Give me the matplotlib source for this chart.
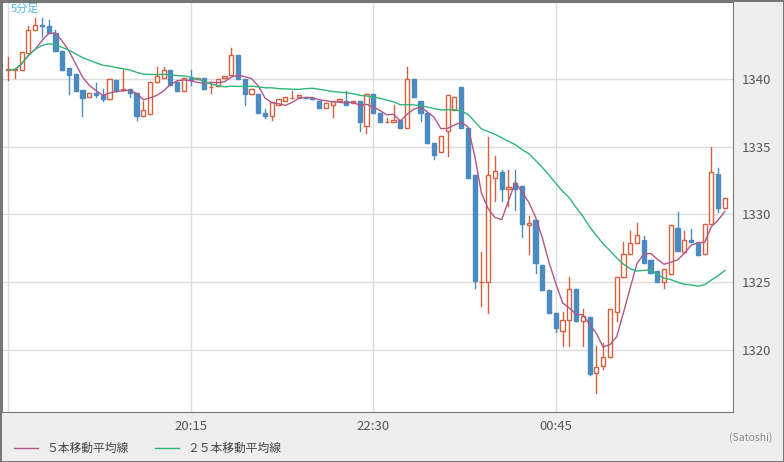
import matplotlib
matplotlib.use("Agg")
import matplotlib.pyplot as plt
from matplotlib.patches import Rectangle
from matplotlib.lines import Line2D
import numpy as np
import pandas as pd

plt.rcParams['font.family'] = ['Noto Sans CJK JP', 'DejaVu Sans']

opens = [1340.7,1340.7,1340.7,1341.9,1343.6,1344.0,1343.9,1343.4,1342.1,1340.8,
         1340.4,1339.2,1338.7,1339.0,1338.8,1338.5,1339.9,1339.2,1339.3,1339.0,
         1337.3,1337.4,1339.8,1340.1,1340.7,1339.8,1339.1,1340.1,1340.0,1340.1,
         1339.4,1339.5,1340.1,1340.3,1341.8,1340.0,1338.9,1338.9,1337.5,1337.3,
         1338.1,1338.4,1338.6,1338.7,1338.7,1338.6,1338.4,1337.9,1338.1,1338.4,
         1338.4,1338.2,1338.4,1336.5,1338.9,1337.5,1336.8,1336.8,1337.0,1336.4,
         1340.0,1338.4,1337.5,1335.3,1334.6,1336.2,1337.7,1339.4,1336.4,1332.9,
         1325.0,1325.0,1332.7,1333.1,1331.9,1332.3,1332.1,1329.2,1329.6,1326.3,
         1324.4,1322.7,1321.4,1322.2,1324.5,1322.1,1322.4,1318.3,1318.8,1319.5,
         1322.8,1325.4,1327.1,1327.9,1328.1,1326.6,1325.8,1325.0,1325.6,1329.0,
         1327.2,1328.1,1327.9,1327.1,1329.3,1333.0,1330.5]
closes = [1340.7,1340.7,1342.0,1343.6,1344.0,1343.9,1343.4,1342.1,1340.7,1340.3,
          1339.1,1338.6,1339.0,1338.8,1338.5,1340.0,1339.1,1339.3,1339.0,1337.3,
          1337.7,1339.8,1340.2,1340.7,1339.6,1339.1,1340.1,1339.9,1340.1,1339.3,
          1339.4,1340.0,1340.2,1341.8,1340.0,1338.9,1339.3,1337.5,1337.3,1338.3,
          1338.5,1338.7,1338.6,1338.8,1338.6,1338.5,1337.9,1338.2,1338.4,1338.5,
          1338.1,1338.4,1336.8,1338.9,1337.5,1336.8,1336.8,1337.0,1336.4,1340.0,
          1338.7,1337.5,1335.3,1334.4,1335.8,1338.8,1338.7,1336.4,1332.7,1325.1,
          1325.0,1332.9,1333.2,1331.9,1332.0,1331.9,1329.3,1329.4,1326.4,1324.4,
          1322.7,1321.6,1322.2,1324.5,1322.1,1322.5,1318.2,1318.7,1319.5,1323.0,
          1325.4,1327.1,1327.9,1328.5,1326.4,1325.7,1325.0,1326.0,1329.2,1327.3,
          1328.1,1328.0,1327.0,1329.3,1333.1,1330.5,1331.2]
highs_read = {0:1341.6,1:1340.8,3:1343.9,4:1344.5,5:1344.5,6:1344.4,7:1343.6,13:1339.7,14:1339.3,
              17:1340.7,20:1338.4,22:1340.9,23:1340.9,27:1340.7,30:1339.7,33:1342.3,38:1337.8,
              42:1339.1,50:1339.1,56:1337.1,57:1338.1,59:1340.9,65:1338.8,70:1327.2,71:1335.7,
              72:1334.3,73:1333.3,74:1333.3,75:1333.3,77:1329.9,82:1322.8,83:1325.4,85:1323.0,
              87:1320.3,88:1320.5,91:1328.0,92:1328.8,93:1329.4,94:1328.4,99:1330.2,100:1328.8,
              101:1328.9,104:1335.0,105:1333.4}
lows_read = {0:1339.9,1:1340.1,5:1343.1,9:1338.9,11:1337.3,13:1338.7,14:1338.4,18:1338.7,19:1337.0,
             27:1339.6,30:1339.0,35:1338.1,38:1337.1,39:1337.0,48:1337.2,52:1336.2,53:1336.0,
             61:1336.9,63:1334.1,65:1334.3,69:1324.6,70:1323.2,71:1322.7,72:1331.0,73:1331.0,
             74:1330.6,75:1330.3,76:1328.3,77:1327.1,78:1325.7,81:1321.3,82:1320.3,83:1320.3,
             85:1320.3,86:1318.1,87:1316.8,88:1318.6,90:1322.1,97:1324.6,105:1330.2}
n = len(opens)
highs = [max(opens[i], closes[i], highs_read.get(i, 0)) for i in range(n)]
lows = [min(opens[i], closes[i], lows_read.get(i, 1e9)) for i in range(n)]
tick_pos = [27, 54, 81]
tick_labels = ["20:15", "22:30", "00:45"]
yticks = [1320, 1325, 1330, 1335, 1340]

UP = '#d9603f'; DOWN = '#4b8bc0'; MA5C = '#b0578a'; MA25C = '#2fb57a'

fig = plt.figure(figsize=(7.84, 4.62), dpi=100, facecolor='#eeeeee',
                 edgecolor='#777777', linewidth=2)
ax = fig.add_axes([2/784, 50/462, 731/784, 410/462])
ax.set_facecolor('white')
ax.set_xlim(-0.9, 107.2)
ax.set_ylim(1315.4, 1345.7)
for y in yticks:
    ax.axhline(y, color='#dddddd', lw=1, zorder=0)
for x in [0] + tick_pos:
    ax.axvline(x, color='#dddddd', lw=1, zorder=0)

w = 0.62
for i in range(n):
    o, c, h, l = opens[i], closes[i], highs[i], lows[i]
    up = c >= o
    col = UP if up else DOWN
    ax.plot([i, i], [l, h], color=col, lw=1, zorder=2)
    bot, top = min(o, c), max(o, c)
    hgt = max(top - bot, 0.04)
    ax.add_patch(Rectangle((i - w/2, bot), w, hgt, facecolor='white' if up else DOWN,
                           edgecolor=col, lw=1, zorder=3))

cs = pd.Series(closes)
ma5 = cs.rolling(5, min_periods=1).mean()
ma25 = cs.rolling(25, min_periods=1).mean()
x = np.arange(n)
ax.plot(x, ma5, color=MA5C, lw=1, zorder=4)
ax.plot(x, ma25, color=MA25C, lw=1, zorder=4)

ax.yaxis.tick_right()
ax.set_yticks(yticks)
ax.set_yticklabels([str(v) for v in yticks], color='#555555', fontsize=9.5)
ax.set_xticks(tick_pos)
ax.set_xticklabels(tick_labels, color='#555555', fontsize=9.5)
ax.tick_params(length=0, pad=6)
for s in ax.spines.values():
    s.set_color('#777777')
ax.text(0.012, 0.995, '5分足', transform=ax.transAxes, color='#4ab8e6', fontsize=8, va='top')

fig.add_artist(Line2D([14/784, 38/784], [14/462, 14/462], color=MA5C, lw=1))
fig.text(46/784, 14/462, '５本移動平均線', fontsize=8.5, color='#444444', va='center')
fig.add_artist(Line2D([155/784, 179/784], [14/462, 14/462], color=MA25C, lw=1))
fig.text(187/784, 14/462, '２５本移動平均線', fontsize=8.5, color='#444444', va='center')
fig.text(772/784, 24/462, '(Satoshi)', fontsize=7.5, color='#888888', ha='right', va='center')

fig.savefig('out.png', dpi=100, facecolor=fig.get_facecolor(), edgecolor=fig.get_edgecolor())
